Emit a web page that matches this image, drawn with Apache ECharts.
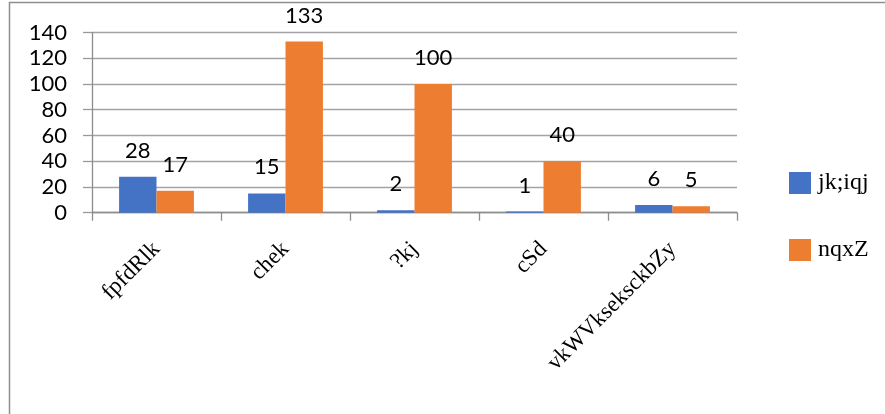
<!DOCTYPE html>
<html>
<head>
<meta charset="utf-8">
<script src="https://cdn.jsdelivr.net/npm/echarts@6/dist/echarts.min.js"></script>
<style>
  html, body { margin: 0; padding: 0; background: #ffffff; }
  #chart { width: 885px; height: 414px; }
</style>
</head>
<body>
<div id="chart"></div>
<script>
// Categories and the two series
const categories = ['fpfdRlk', 'chek', '?kj', 'cSd', 'vkWVkseksckbZy'];
const seriesNames = ['jk;iqj', 'nqxZ'];
const valuesA = [28, 15, 2, 1, 6];
const valuesB = [17, 133, 100, 40, 5];
const yTicks = { min: 0, max: 140, interval: 20 };

const chart = echarts.init(document.getElementById('chart'), null, { renderer: 'canvas' });

const labelStyle = {
  show: true,
  position: 'top',
  distance: 15,
  color: '#000000',
  fontFamily: 'Lato',
  fontSize: 22
};

chart.setOption({
  animation: false,
  backgroundColor: '#ffffff',
  graphic: [{
    type: 'rect',
    silent: true,
    z: -10,
    shape: { x: 9.5, y: 2.5, width: 1000, height: 1000 },
    style: { fill: 'none', stroke: '#8e8e8e', lineWidth: 1.5 }
  }],
  grid: { left: 92, right: 148, top: 32.5, bottom: 201.3 },
  legend: {
    orient: 'vertical',
    left: 784,
    top: 166,
    itemWidth: 22,
    itemHeight: 22,
    itemGap: 43,
    icon: 'rect',
    textStyle: { fontFamily: 'Liberation Serif', fontSize: 24, color: '#000000', padding: [0, 0, 0, 2] },
    data: seriesNames
  },
  xAxis: {
    type: 'category',
    data: categories,
    axisLine: { show: true, lineStyle: { color: '#8c8c8c', width: 1.3 } },
    axisTick: { show: true, length: 8, alignWithLabel: false, lineStyle: { color: '#8c8c8c', width: 1.3 } },
    axisLabel: {
      rotate: 45,
      margin: 33,
      interval: 0,
      fontFamily: 'Liberation Serif',
      fontSize: 23,
      color: '#000000'
    }
  },
  yAxis: {
    type: 'value',
    min: yTicks.min,
    max: yTicks.max,
    interval: yTicks.interval,
    axisLine: { show: true, lineStyle: { color: '#8c8c8c', width: 1.3 } },
    axisTick: { show: true, length: 9, lineStyle: { color: '#9a9a9a', width: 1.3 } },
    splitLine: { show: true, lineStyle: { color: '#a3a3a3', width: 1.3 } },
    axisLabel: {
      margin: 25,
      fontFamily: 'Lato',
      fontSize: 22,
      color: '#000000'
    }
  },
  series: [
    {
      name: seriesNames[0],
      type: 'bar',
      data: valuesA,
      barGap: '0%',
      barCategoryGap: '42%',
      itemStyle: { color: '#4472C4' },
      label: labelStyle
    },
    {
      name: seriesNames[1],
      type: 'bar',
      data: valuesB,
      barGap: '0%',
      barCategoryGap: '42%',
      itemStyle: { color: '#ED7D31' },
      label: labelStyle
    }
  ]
});
</script>
</body>
</html>
